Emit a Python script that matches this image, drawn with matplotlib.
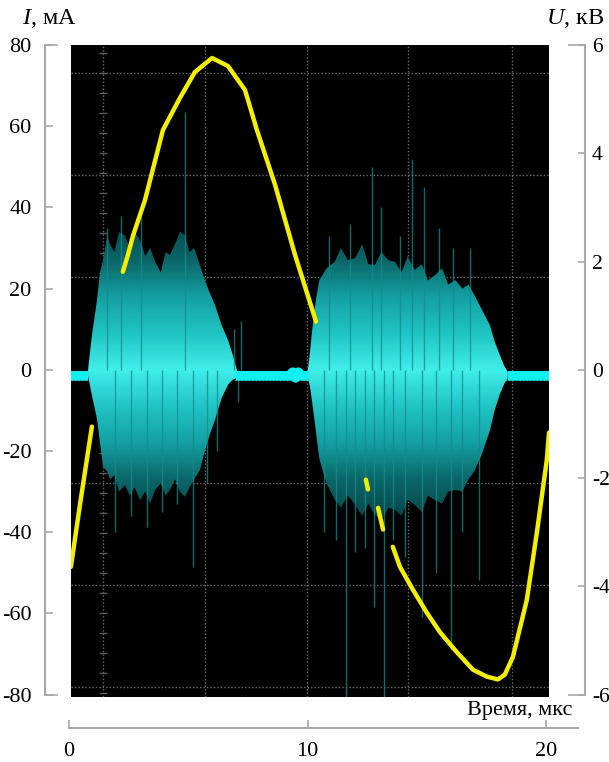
import numpy as np
import matplotlib.pyplot as plt
from matplotlib.colors import LinearSegmentedColormap

plt.rcParams['font.family'] = ['Liberation Serif', 'DejaVu Serif']
plt.rcParams['mathtext.fontset'] = 'custom'
plt.rcParams['mathtext.it'] = 'Liberation Serif:italic'
plt.rcParams['mathtext.rm'] = 'Liberation Serif'
plt.rcParams['axes.unicode_minus'] = False

nan = np.nan

# voltage trace U, kV (nan = trace not visible)
u_t = [0.08, 0.46, 0.96, nan,
       2.26, 2.47, 2.68, 3.19, 3.94, 4.65, 5.28, 6.00, 6.67, 7.38, 7.88, 8.64, 9.48, 10.36, nan,
       12.45, 12.54, nan, 12.96, 13.17, nan,
       13.58, 13.88, 14.42, 15.01, 15.56, 16.27, 16.94, 17.53, 17.99, 18.28, 18.62, 19.20, 19.62, 20.04, 20.13]
u_kv = [-3.64, -2.49, -1.05, nan,
        1.81, 2.12, 2.47, 3.14, 4.43, 5.02, 5.50, 5.76, 5.61, 5.17, 4.43, 3.42, 2.12, 0.89, nan,
        -2.03, -2.21, nan, -2.55, -2.95, nan,
        -3.27, -3.64, -4.06, -4.49, -4.85, -5.22, -5.54, -5.67, -5.72, -5.63, -5.30, -4.25, -3.01, -1.66, -1.16]

# current I, mA: quiet baseline
base_t = [0.08, 0.80, nan, 7.00, 9.25, 9.38, 9.50, 9.62, 9.75, 10.05, nan, 18.40, 20.13]
base_i = [-1.5, -1.5, nan, -1.5, -1.5, -0.6, -2.0, -0.6, -1.5, -1.5, nan, -1.5, -1.5]

# discharge bursts: envelope of the current, mA
b1_t = [0.80, 0.95, 1.17, 1.30, 1.43, 1.60, 1.72, 1.90, 2.10, 2.35, 2.55, 2.75, 2.98, 3.20,
        3.40, 3.61, 3.85, 4.05, 4.23, 4.45, 4.65, 4.86, 5.05, 5.25, 5.49, 5.70, 5.90, 6.12,
        6.40, 6.67, 6.85, 7.04]
b1_hi = [0.0, 8.0, 17.0, 24.0, 27.0, 33.0, 31.0, 29.0, 34.0, 33.0, 30.0, 34.0, 32.0, 28.0,
         30.0, 26.6, 24.0, 29.0, 28.3, 31.0, 34.0, 33.2, 29.0, 30.0, 25.8, 22.0, 19.0, 16.0,
         11.0, 7.3, 4.0, 0.0]
b1_lo = [-1.5, -6.0, -12.0, -18.0, -24.0, -25.0, -27.0, -26.0, -30.0, -28.4, -31.0, -29.0,
         -32.1, -30.0, -33.0, -29.6, -28.0, -31.0, -29.6, -27.0, -30.0, -31.3, -29.0, -27.0,
         -24.7, -20.0, -16.0, -12.4, -7.0, -3.7, -2.5, -2.0]

b2_t = [10.00, 10.10, 10.20, 10.35, 10.50, 10.80, 11.15, 11.40, 11.70, 12.00, 12.30, 12.55,
        12.83, 13.10, 13.40, 13.67, 13.95, 14.20, 14.50, 14.80, 15.05, 15.35, 15.65, 15.90,
        16.20, 16.50, 16.75, 17.00, 17.30, 17.65, 17.85, 18.07, 18.25, 18.40]
b2_hi = [-1.0, 4.0, 9.8, 17.0, 22.1, 25.0, 26.6, 30.0, 27.0, 27.5, 31.0, 26.0,
         25.8, 29.0, 27.0, 26.6, 24.0, 28.0, 24.6, 26.0, 22.0, 23.3, 25.0, 21.0,
         22.1, 20.0, 21.0, 18.4, 15.0, 11.0, 7.0, 3.6, 1.0, -0.5]
b2_lo = [-1.5, -4.0, -8.0, -15.0, -22.0, -28.0, -32.0, -34.0, -31.0, -33.3, -36.0, -33.0,
         -35.8, -37.0, -34.0, -34.5, -36.0, -32.0, -33.3, -35.0, -31.0, -32.1, -33.0, -30.0,
         -29.6, -30.0, -27.0, -25.0, -21.0, -15.0, -10.0, -6.0, -3.5, -2.0]

# single spikes sticking out of the bursts
up_t = [1.60, 2.20, 3.00, 4.86, 6.90, 7.20, 10.90, 11.80, 12.70, 13.10, 13.90, 14.40, 14.90,
        15.50, 16.10, 16.80]
up_i = [35.0, 38.0, 38.0, 63.5, 10.0, 12.0, 33.0, 36.0, 50.0, 40.0, 33.0, 52.0, 45.0,
        35.0, 30.0, 30.0]
down_t = [1.92, 2.60, 3.27, 3.90, 4.53, 5.20, 5.80, 6.20, 7.10, 10.70, 11.20, 11.60, 12.00,
          12.40, 12.80, 13.20, 13.60, 14.10, 14.80, 15.40, 16.00, 16.50, 17.20]
down_i = [-40.0, -36.0, -38.7, -35.0, -33.0, -48.6, -28.0, -20.0, -8.0, -40.0, -42.0, -80.6,
          -45.0, -44.0, -58.4, -80.6, -42.0, -46.0, -60.9, -50.0, -69.0, -40.0, -51.8]

i_ticks = [-80, -60, -40, -20, 0, 20, 40, 60, 80]
u_ticks = [-6, -4, -2, 0, 2, 4, 6]
t_ticks = [0, 10, 20]

# scope screen divisions
grid_t = [1.43, 5.70, 9.98, 14.21, 18.57]
grid_i = [73.1, 48.0, 22.9, -2.5, -27.9, -53.0, -78.1]

gray = '#a8a8a8'
W, H = 609, 762
fig = plt.figure(figsize=(W / 100, H / 100), dpi=100)

ax = fig.add_axes([71 / W, 65 / H, 478 / W, 652 / H])
ax.set_facecolor('black')
xlim = (0.084, 20.13)
ylim = (-80.6, 80)

for g in grid_t:
    ax.axvline(g, color='#6a6a6a', lw=1, ls=(0, (1, 1.5)), zorder=1)
for g in grid_i:
    ax.axhline(g, color='#6a6a6a', lw=1, ls=(0, (1, 1.5)), zorder=1)
marks = np.arange(78.1, -80, -4.93)
ax.plot([grid_t[0]] * len(marks), marks, ls='none', marker='_', ms=6, color='#5a5a5a', zorder=1)

cmap = LinearSegmentedColormap.from_list('burst', ['#40eeea', '#20c4c4', '#14a0a2', '#0b6668', '#07484a'])
grad = np.abs(np.linspace(ylim[0], ylim[1], 400))[:, None] / 36.0


def burst(t, hi, lo):
    poly = ax.fill_between(t, lo, hi, color='none', lw=0)
    img = ax.imshow(grad, extent=[t[0], t[-1], ylim[0], ylim[1]], origin='lower',
                    aspect='auto', cmap=cmap, vmin=0, vmax=1, zorder=2)
    img.set_clip_path(poly.get_paths()[0], transform=ax.transData)


burst(b1_t, b1_hi, b1_lo)
burst(b2_t, b2_hi, b2_lo)
ax.vlines(up_t, 0, up_i, color='#148c8c', lw=1, alpha=0.75, zorder=2)
ax.vlines(down_t, down_i, 0, color='#148c8c', lw=1, alpha=0.75, zorder=2)
ax.plot(base_t, base_i, color='#10f0f0', lw=7, solid_capstyle='butt', zorder=3)

ax.set_xlim(*xlim)
ax.set_ylim(*ylim)
ax.set_xticks([])
ax.set_yticks(i_ticks)
ax.set_yticks([-80, 80], minor=True)
ax.yaxis.remove_overlapping_locs = False
for s in ['top', 'bottom', 'right']:
    ax.spines[s].set_visible(False)
ax.spines['left'].set_position(('outward', 19))
ax.spines['left'].set_bounds(-80, 80)
ax.spines['left'].set_color(gray)
ax.spines['left'].set_linewidth(1.5)
ax.tick_params(axis='y', which='major', direction='in', length=6, width=1.2,
               color=gray, pad=9.5, labelsize=16)
ax.tick_params(axis='y', which='minor', direction='in', length=9, width=1.2, color=gray)

ax2 = ax.twinx()
ax2.plot(u_t, u_kv, color='#f4ee00', lw=3.2, solid_capstyle='round', zorder=4)
ax2.set_ylim(-6.045, 6)
ax2.set_yticks(u_ticks)
ax2.set_yticks([-6, 6], minor=True)
ax2.yaxis.remove_overlapping_locs = False
for s in ['top', 'bottom', 'left']:
    ax2.spines[s].set_visible(False)
ax2.spines['right'].set_position(('outward', 26))
ax2.spines['right'].set_bounds(-6, 6)
ax2.spines['right'].set_color(gray)
ax2.spines['right'].set_linewidth(1.5)
ax2.tick_params(axis='y', which='major', direction='in', length=5, width=1.2,
                color=gray, pad=5, labelsize=15.5)
ax2.tick_params(axis='y', which='minor', direction='in', length=12, width=1.2, color=gray)

# separate time axis below the screen
axt = fig.add_axes([69 / W, 34 / H, 509 / W, 0.02])
axt.set_facecolor('none')
axt.set_xlim(0, 21.34)
axt.set_yticks([])
axt.set_xticks(t_ticks)
for s in ['top', 'left', 'right']:
    axt.spines[s].set_visible(False)
axt.spines['bottom'].set_bounds(0, 21.34)
axt.spines['bottom'].set_color(gray)
axt.spines['bottom'].set_linewidth(1.5)
axt.tick_params(axis='x', direction='in', length=6, width=1.2, color=gray, pad=10, labelsize=16)

fig.text(22 / W, 1 - 18 / H, r'$I$, мА', fontsize=17.5, ha='left', va='center')
fig.text(546 / W, 1 - 18 / H, r'$U$, кВ', fontsize=17.5, ha='left', va='center')
fig.text(572 / W, 1 - 711 / H, 'Время, мкс', fontsize=16, ha='right', va='center')

fig.savefig('out.png', dpi=100)
